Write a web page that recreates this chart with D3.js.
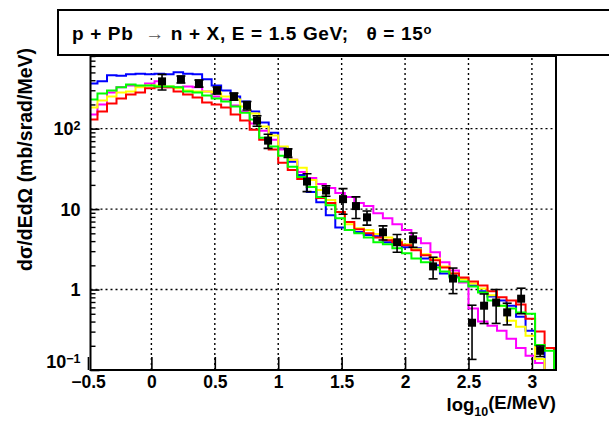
<!DOCTYPE html>
<html><head><meta charset="utf-8">
<script src="https://cdn.jsdelivr.net/npm/d3@7"></script>
<style>
html,body{margin:0;padding:0;background:#fff;}
text{font-family:"Liberation Sans",Arial,Helvetica,sans-serif;font-weight:bold;fill:#000;}
</style></head>
<body><svg id="c" width="609" height="421"></svg>
<script>
// ---------- data ----------
const binStart = -0.5, binWidth = 0.075;
const blueVals = [365,387,460,455,473,480,473,480,473,501,480,473,410,345,298,251,218,163,119,89,58,38.7,26.6,16.3,12.2,8.4,5.9,5.5,5.2,4.75,4.6,3.87,3.76,3.35,3.26,2.44,2.0,1.58,1.46,1.37,1.12,0.95,0.82,0.73,0.63,0.46,0.307,0.2,0];
const redVals = [130,163,205,237,266,282,317,326,326,290,266,244,211,200,183,150,126,97,73,55,37.6,30.7,23.7,18.8,13.7,11.9,9.2,6.9,5.6,5.0,4.45,4.1,3.87,3.55,3.07,2.66,2.31,1.88,1.58,1.41,1.26,1.12,0.95,0.8,0.73,0.65,0.434,0.3,0.188];
const magentaVals = [150,199,282,326,345,335,365,387,326,326,335,326,290,251,231,194,163,116,94,73,55,41,29,24.4,20.5,18.3,15.9,14.1,11.9,10.9,8.9,7.7,6.5,5.5,4.34,3.76,2.9,2.18,1.73,1.22,0.58,0.4,0.356,0.307,0.244,0.188,0.15,0.122,0];
const yellowVals = [183,224,251,282,290,326,345,345,335,317,298,290,290,282,251,231,188,154,106,82,60,41,32.6,23,17.3,13,9.2,6.5,5.8,5.5,4.9,4.45,4.1,3.65,3.16,2.74,2.44,1.94,1.58,1.34,1.19,1.03,0.85,0.63,0.41,0.345,0.266,0.137,0];
const greenVals = [231,274,298,326,355,345,345,335,335,326,290,282,259,237,218,188,158,130,77,60,46,33.5,25,18.8,14.1,11.2,7.7,5.5,5.0,4.45,3.87,3.65,3.26,2.82,2.44,2.18,1.88,1.68,1.41,1.26,1.09,0.92,0.73,0.63,0.58,0.52,0.5,0.205,0.173];

const dataX = [0.084,0.233,0.375,0.517,0.651,0.754,0.833,0.920,1.077,1.227,1.377,1.511,1.613,1.700,1.826,1.937,2.063,2.221,2.378,2.528,2.623,2.718,2.805,2.915,3.065];
const dataY = [387,410,365,299,251,194,126,71,50,22,17,13.3,10.9,7.9,5.16,3.87,4.2,1.94,1.37,0.387,0.63,0.69,0.52,0.77,0.173];
const dataErrRel = [0.22,0.1,0.1,0.1,0.1,0.12,0.15,0.2,0.12,0.25,0.15,0.35,0.3,0.2,0.2,0.25,0.2,0.3,0.35,0.65,0.4,0.45,0.3,0.35,0.15];

const xTicks = [-0.5,0,0.5,1,1.5,2,2.5,3];
const xTickLabels = ["\u22120.5","0","0.5","1","1.5","2","2.5","3"];
const yMajor = [0.1,1,10,100];
const yMinor = [0.2,0.3,0.4,0.5,0.6,0.7,0.8,0.9,2,3,4,5,6,7,8,9,20,30,40,50,60,70,80,90,200,300,400,500,600,700,800];

const series = [
  {vals: blueVals, color:"#0000ff"},
  {vals: magentaVals, color:"#ff00ff"},
  {vals: yellowVals, color:"#ffff00"},
  {vals: redVals, color:"#ff0000"},
  {vals: greenVals, color:"#00ff00"}
];

// ---------- layout ----------
const L = 90.5, R = 556, T = 56, B = 370;
const svg = d3.select("#c");
const x = d3.scaleLinear().domain([-0.48, 3.19]).range([L, R]);
const y = d3.scaleLog().domain([0.1, 800]).range([B, T]);
const floorV = 0.03;

svg.append("defs").append("clipPath").attr("id","clip")
  .append("rect").attr("x",L).attr("y",T).attr("width",R-L).attr("height",B-T);

// grid
const grid = svg.append("g").attr("stroke","#000").attr("stroke-width",1.4).attr("stroke-dasharray","2,3");
xTicks.filter(t=>t>-0.5).forEach(t=>{
  grid.append("line").attr("x1",x(t)).attr("x2",x(t)).attr("y1",B).attr("y2",T);
});
yMajor.filter(t=>t>0.1).forEach(t=>{
  grid.append("line").attr("x1",L).attr("x2",R).attr("y1",y(t)).attr("y2",y(t));
});

// histograms
const line = d3.line().x(d=>x(d[0])).y(d=>y(Math.max(d[1],floorV)));
const hg = svg.append("g").attr("clip-path","url(#clip)");
series.forEach(s=>{
  const pts = [];
  s.vals.forEach((v,i)=>{
    const e0 = binStart + i*binWidth, e1 = e0 + binWidth;
    pts.push([e0, v]); pts.push([e1, v]);
  });
  pts.push([binStart + s.vals.length*binWidth, floorV]);
  hg.append("path").attr("d", line(pts)).attr("fill","none")
    .attr("stroke", s.color).attr("stroke-width",2).attr("stroke-linejoin","miter");
});

// data points
const dg = svg.append("g").attr("clip-path","url(#clip)");
dataX.forEach((dx,i)=>{
  const v = dataY[i], e = v*dataErrRel[i];
  const cx = x(dx), y1 = y(Math.max(v-e, floorV)), y2 = y(v+e);
  dg.append("line").attr("x1",cx).attr("x2",cx).attr("y1",y1).attr("y2",y2).attr("stroke","#000").attr("stroke-width",1.6);
  [y1,y2].forEach(yy=>dg.append("line").attr("x1",cx-4.5).attr("x2",cx+4.5).attr("y1",yy).attr("y2",yy).attr("stroke","#000").attr("stroke-width",1.6));
  dg.append("rect").attr("x",cx-4).attr("y",y(v)-4).attr("width",8).attr("height",8).attr("fill","#000");
});

// axes
const xAxis = d3.axisBottom(x).tickValues(xTicks).tickSize(-13).tickPadding(6)
  .tickFormat((d,i)=>xTickLabels[i]);
const gx = svg.append("g").attr("transform",`translate(0,${B})`).call(xAxis);
gx.select(".domain").remove();
gx.selectAll(".tick line").attr("stroke","#000").attr("stroke-width",1.6);
gx.selectAll(".tick text").attr("font-family",null).attr("font-size",null).style("font-size","17.5px");

const yAxis = d3.axisLeft(y).tickValues(yMajor).tickSize(-9).tickPadding(10).tickFormat("");
const gy = svg.append("g").attr("transform",`translate(${L},0)`).call(yAxis);
gy.select(".domain").remove();
gy.selectAll(".tick line").attr("stroke","#000").attr("stroke-width",1.6);
const yMinAxis = d3.axisLeft(y).tickValues(yMinor).tickSize(-5).tickFormat("");
const gym = svg.append("g").attr("transform",`translate(${L},0)`).call(yMinAxis);
gym.select(".domain").remove();
gym.selectAll(".tick line").attr("stroke","#000").attr("stroke-width",1.4);

// y tick labels
const ylab = svg.append("g");
yMajor.forEach(t=>{
  const tx = ylab.append("text").attr("x",L-10).attr("y",y(t) - (t===0.1 ? 8 : 0)).attr("dy","0.36em")
    .attr("text-anchor","end").style("font-size","18px");
  if (t===0.1){ tx.append("tspan").text("10"); tx.append("tspan").attr("dy","-0.45em").style("font-size","12.5px").text("\u22121"); }
  else if (t===100){ tx.append("tspan").text("10"); tx.append("tspan").attr("dy","-0.45em").style("font-size","12.5px").text("2"); }
  else tx.text(String(t));
});

// frame
svg.append("rect").attr("x",L).attr("y",T).attr("width",R-L).attr("height",B-T)
  .attr("fill","none").attr("stroke","#000").attr("stroke-width",2);

// axis titles
const xt = svg.append("text").attr("x",R).attr("y",411).attr("text-anchor","end").style("font-size","18.5px");
xt.append("tspan").text("log");
xt.append("tspan").attr("dy","0.38em").style("font-size","12.5px").text("10");
xt.append("tspan").attr("dy","-0.38em").text("(E/MeV)");

svg.append("text").attr("transform","translate(32,48) rotate(-90)").attr("text-anchor","end")
  .style("font-size","19.5px").text("d\u03c3/dEd\u03a9 (mb/srad/MeV)");

// title box
svg.append("rect").attr("x",58).attr("y",10).attr("width",560).attr("height",45)
  .attr("fill","#fff").attr("stroke","#000").attr("stroke-width",2);
const tt = svg.append("text").attr("x",72).attr("y",40).style("font-size","19px").style("white-space","pre");
tt.append("tspan").text("p + Pb  ");
tt.append("tspan").style("font-weight","normal").style("fill","#555").text("\u2192");
tt.append("tspan").text(" n + X, E = 1.5 GeV;   \u03b8 = 15");
tt.append("tspan").attr("dy","-0.5em").style("font-size","13px").text("o");
// fit title to reference width
const w = tt.node().getComputedTextLength();
const nChars = tt.text().length;
if (w < 360) tt.style("letter-spacing", ((360 - w) / nChars) + "px");
</script></body></html>
